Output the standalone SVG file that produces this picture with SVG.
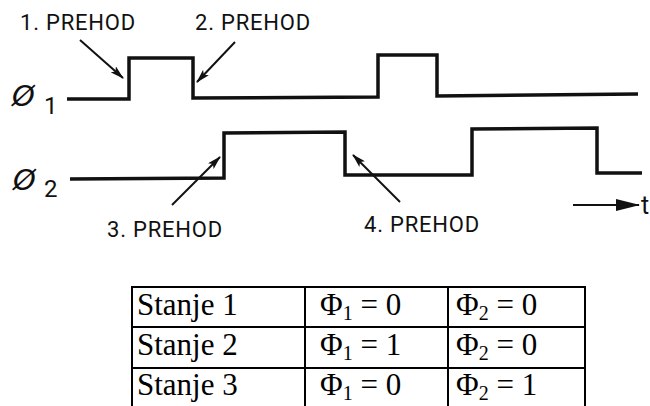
<svg xmlns="http://www.w3.org/2000/svg" width="650" height="406" viewBox="0 0 650 406">
  <defs>
    <marker id="barb" viewBox="0 0 14 8" refX="13" refY="4" markerWidth="14" markerHeight="8" markerUnits="userSpaceOnUse" orient="auto">
      <path d="M0,0 L14,4 L0,8 L3,4 Z" fill="#111"/>
    </marker>
    <marker id="head" viewBox="0 0 24 12" refX="23" refY="6" markerWidth="24" markerHeight="12" markerUnits="userSpaceOnUse" orient="auto">
      <path d="M0,0 L24,6 L0,12 Z" fill="#111"/>
    </marker>
  </defs>
  <style>
    .sig { fill: none; stroke: #111; stroke-width: 3.5; stroke-linejoin: miter; }
    .ptr { fill: none; stroke: #111; stroke-width: 2; marker-end: url(#barb); }
    .axis { fill: none; stroke: #111; stroke-width: 2.2; marker-end: url(#head); }
    .lbl { font-family: Roboto, "Liberation Sans", Arial, sans-serif; font-size: 22px; fill: #111; letter-spacing: 0.8px; }
    .phi { font-family: "DejaVu Sans", sans-serif; font-size: 29px; font-style: italic; fill: #111; }
    .idx { font-family: Roboto, "Liberation Sans", Arial, sans-serif; font-size: 24px; fill: #111; }
    .grid { fill: none; stroke: #000; stroke-width: 2; }
    .cell { font-family: "Liberation Serif", "Times New Roman", serif; font-size: 31px; fill: #000; }
    .sub { font-size: 20px; }
  </style>

  <g id="signal-phi1">
    <text class="phi" x="12" y="106">Ø</text>
    <text class="idx" x="44" y="114">1</text>
    <polyline class="sig" points="67,99 129,99 129,58 193,58 193,98 378,97 378,55 437,55 437,96 638,94"/>
  </g>

  <g id="signal-phi2">
    <text class="phi" x="13" y="190">Ø</text>
    <text class="idx" x="44" y="197">2</text>
    <polyline class="sig" points="70,179 224,178 224,133 345,132 345,175 472,175 472,129 597,128 597,173 642,173"/>
  </g>

  <g id="prehod-1">
    <text class="lbl" x="20" y="30">1. PREHOD</text>
  </g>
  <g id="prehod-2">
    <text class="lbl" x="195" y="30">2. PREHOD</text>
  </g>
  <g id="prehod-3">
    <text class="lbl" x="107" y="237">3. PREHOD</text>
  </g>
  <g id="prehod-4">
    <text class="lbl" x="364" y="232">4. PREHOD</text>
  </g>

  <g id="time-axis">
    <text class="lbl" x="641" y="214" style="font-size:25px">t</text>
  </g>

  <g id="connectors">
    <line class="ptr" x1="80" y1="40" x2="123" y2="78"/>
    <line class="ptr" x1="235" y1="42" x2="197" y2="82"/>
    <line class="ptr" x1="172" y1="205" x2="220" y2="157"/>
    <line class="ptr" x1="400" y1="202" x2="353" y2="155"/>
    <line class="axis" x1="573" y1="205" x2="639" y2="205"/>
  </g>

  <g id="state-table">
    <polyline class="grid" points="132,408 132,287 585,287 585,408"/>
    <line class="grid" x1="132" y1="327" x2="585" y2="327"/>
    <line class="grid" x1="132" y1="368" x2="585" y2="368"/>
    <line class="grid" x1="305" y1="287" x2="305" y2="408"/>
    <line class="grid" x1="448" y1="287" x2="448" y2="408"/>

    <text class="cell" x="137" y="315">Stanje 1</text>
    <text class="cell" x="320" y="315">Φ<tspan class="sub" dy="5">1</tspan><tspan dy="-5"> = 0</tspan></text>
    <text class="cell" x="456" y="315">Φ<tspan class="sub" dy="5">2</tspan><tspan dy="-5"> = 0</tspan></text>

    <text class="cell" x="137" y="355">Stanje 2</text>
    <text class="cell" x="320" y="355">Φ<tspan class="sub" dy="5">1</tspan><tspan dy="-5"> = 1</tspan></text>
    <text class="cell" x="456" y="355">Φ<tspan class="sub" dy="5">2</tspan><tspan dy="-5"> = 0</tspan></text>

    <text class="cell" x="137" y="395">Stanje 3</text>
    <text class="cell" x="320" y="395">Φ<tspan class="sub" dy="5">1</tspan><tspan dy="-5"> = 0</tspan></text>
    <text class="cell" x="456" y="395">Φ<tspan class="sub" dy="5">2</tspan><tspan dy="-5"> = 1</tspan></text>
  </g>
</svg>
